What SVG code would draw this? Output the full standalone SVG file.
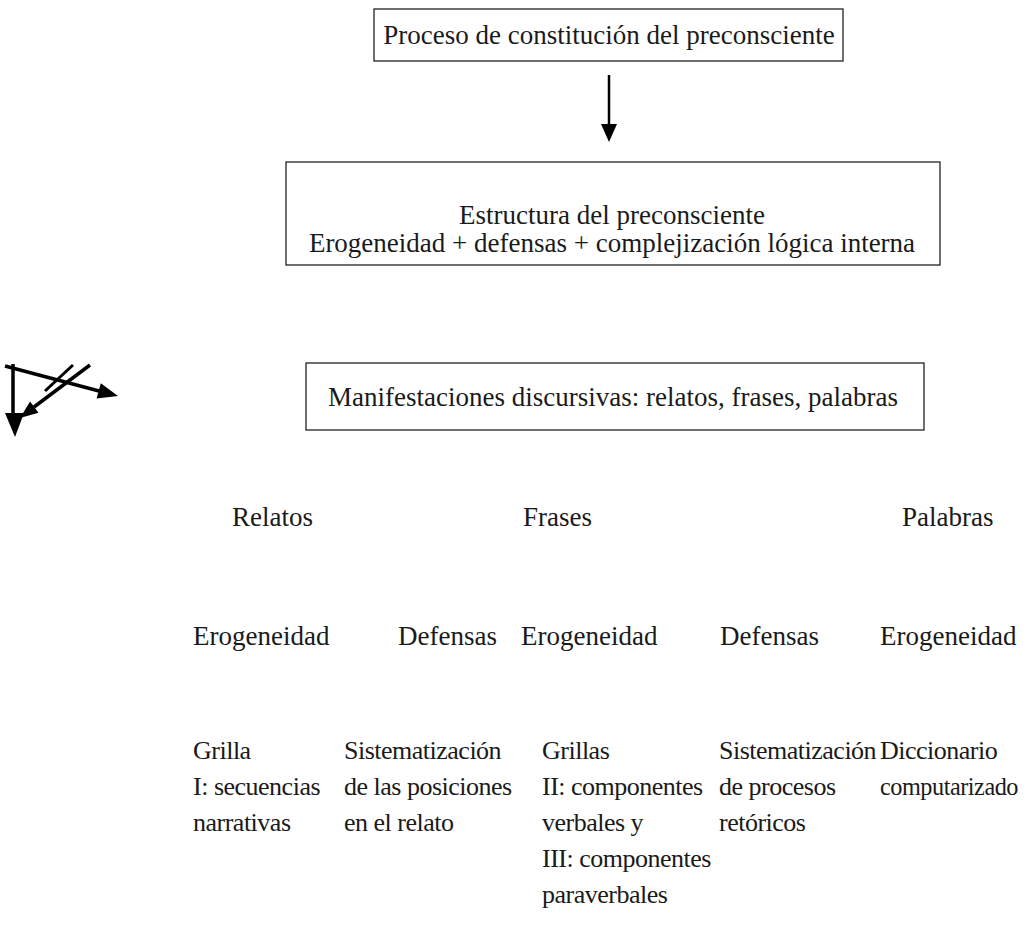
<svg xmlns="http://www.w3.org/2000/svg" width="1027" height="929" viewBox="0 0 1027 929">
<style>
text{font-family:"Liberation Serif","Times New Roman",serif;font-size:27px;fill:#1a1a1a}
.c{text-anchor:middle}
.b{font-size:26px;letter-spacing:-0.5px}
.box{fill:#fff;stroke:#222;stroke-width:1.3}
.ln{stroke:#000;stroke-width:3.5;fill:none}
</style>
<rect width="1027" height="929" fill="#fff"/>
<g id="n1"><rect class="box" x="374" y="9" width="469" height="52"/><text class="c" x="609" y="44">Proceso de constitución del preconsciente</text></g>
<g id="n2"><rect class="box" x="286" y="162" width="654" height="103"/><text class="c" x="612" y="224">Estructura del preconsciente</text><text class="c" x="612" y="252">Erogeneidad + defensas + complejización lógica interna</text></g>
<g id="n3"><rect class="box" x="306" y="363" width="618" height="67"/><text class="c" x="613" y="406">Manifestaciones discursivas: relatos, frases, palabras</text></g>
<g id="connectors">
<line x1="609" y1="75" x2="609" y2="125" stroke="#000" stroke-width="2.5"/>
<path d="M601,124 L617,124 L609,142 z" fill="#000"/>
<line class="ln" x1="5" y1="366" x2="99" y2="391"/>
<path d="M96.6,398.6 L118,396 L100.8,383.2 z" fill="#000"/>
<line class="ln" x1="13" y1="364" x2="13" y2="415"/>
<path d="M5,413 L24,413 L15,437 z" fill="#000"/>
<line class="ln" x1="90" y1="365" x2="34" y2="407"/>
<line x1="73" y1="365" x2="45" y2="391" stroke="#000" stroke-width="3"/>
<path d="M38.5,412.7 L20,418 L30.1,401.5 z" fill="#000"/>
</g>
<g id="n4"><text x="232" y="526">Relatos</text></g>
<g id="n5"><text x="523" y="526">Frases</text></g>
<g id="n6"><text x="902" y="526">Palabras</text></g>
<g id="n7"><text x="193" y="645">Erogeneidad</text></g>
<g id="n8"><text x="398" y="645">Defensas</text></g>
<g id="n9"><text x="521" y="645">Erogeneidad</text></g>
<g id="n10"><text x="720" y="645">Defensas</text></g>
<g id="n11"><text x="880" y="645">Erogeneidad</text></g>
<g id="n12" class="b"><text class="b" x="193" y="759">Grilla</text><text class="b" x="193" y="795">I: secuencias</text><text class="b" x="193" y="831">narrativas</text></g>
<g id="n13"><text class="b" x="344" y="759">Sistematización</text><text class="b" x="344" y="795">de las posiciones</text><text class="b" x="344" y="831">en el relato</text></g>
<g id="n14"><text class="b" x="542" y="759">Grillas</text><text class="b" x="542" y="795">II: componentes</text><text class="b" x="542" y="831">verbales y</text><text class="b" x="542" y="867">III: componentes</text><text class="b" x="542" y="903">paraverbales</text></g>
<g id="n15"><text class="b" x="719" y="759">Sistematización</text><text class="b" x="719" y="795">de procesos</text><text class="b" x="719" y="831">retóricos</text></g>
<g id="n16"><text class="b" x="880" y="759">Diccionario</text><text class="b" x="880" y="795" textLength="138" lengthAdjust="spacingAndGlyphs">computarizado</text></g>
</svg>
